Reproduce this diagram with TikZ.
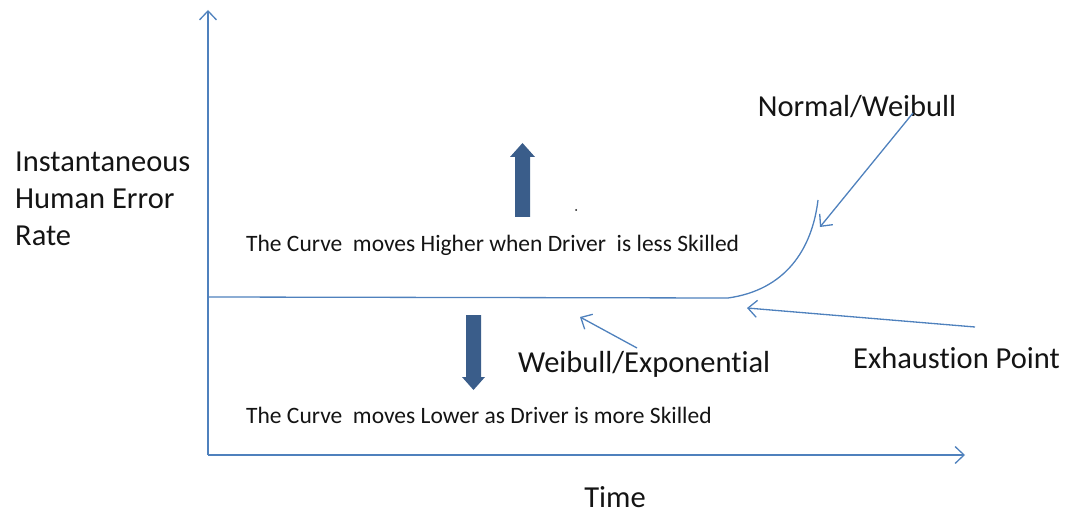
\documentclass[tikz,border=0pt]{standalone}
\usepackage{fontspec}
\setmainfont{Carlito}[Ligatures=NoCommon]
\usetikzlibrary{arrows.meta}
\definecolor{axisblue}{RGB}{79,129,189}
\definecolor{fatblue}{RGB}{58,93,138}
\definecolor{txt}{RGB}{20,20,20}
\begin{document}
\begin{tikzpicture}[x=1pt,y=-1pt,
  thin line/.style={draw=axisblue,line width=1.3pt},
  open tip/.style={-{Straight Barb[length=9pt,width=17pt,line width=1.3pt]}},
  big label/.style={text=txt,font=\fontsize{30.5}{37}\selectfont,inner sep=0pt},
  small label/.style={text=txt,font=\fontsize{23.5}{27}\selectfont,inner sep=0pt,anchor=west},
  fat arrow/.style={fill=fatblue,draw=none}]
\useasboundingbox (0,0) rectangle (1066,513);
% axes
\coordinate (O) at (208,455);
\coordinate (ytop) at (208,10);
\coordinate (xend) at (965,455);
\draw[thin line,open tip] (O) -- (ytop);
\draw[thin line,open tip] (O) -- (xend);
% curve
\coordinate (c0) at (208,297);
\coordinate (c1) at (728,298);
\coordinate (c2) at (818,200);
\draw[thin line] (c0) -- (c1) .. controls (785,290) and (812,250) .. (c2);
% labels
\node[big label,align=left,anchor=north west] (ylab) at (15,152) {Instantaneous\\Human Error\\Rate};
\node[big label] (time) at (615,497) {Time};
\node[big label] (nw) at (857,107) {Normal/Weibull};
\node[big label,anchor=west] (ex) at (853,358) {Exhaustion Point};
\node[big label,anchor=west] (we) at (518,364) {Weibull/Exponential};
\node[small label] (hi) at (246,245) {The Curve\ \ moves Higher when Driver\ \ is less Skilled};
\node[small label] (lo) at (246,415) {The Curve\ \ moves Lower as Driver is more Skilled};
% pointer arrows
\coordinate (nwS) at (913,113);
\coordinate (nwT) at (820,227);
\draw[thin line,open tip] (nwS) -- (nwT);
\coordinate (exS) at (975,327);
\coordinate (exT) at (747,308);
\draw[thin line,open tip] (exS) -- (exT);
\coordinate (weS) at (637,348);
\coordinate (weT) at (580,317);
\draw[thin line,open tip] (weS) -- (weT);
% fat arrows
\path[fat arrow] (515,217) -- (530,217) -- (530,157) -- (535,157) -- (522.5,143) -- (510,157) -- (515,157) -- cycle;
\path[fat arrow] (466,315) -- (481,315) -- (481,377) -- (485,377) -- (473.5,390) -- (462,377) -- (466,377) -- cycle;
\node[fill=txt,circle,inner sep=0pt,minimum size=2pt] (dot) at (576,210) {};
\end{tikzpicture}
\end{document}
